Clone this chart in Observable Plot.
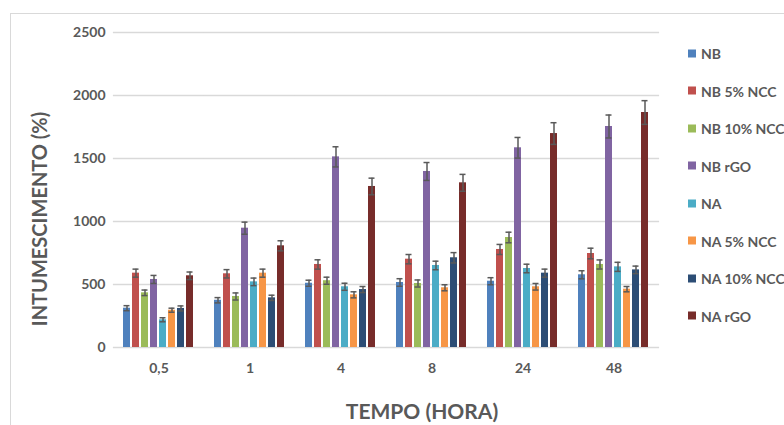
<!DOCTYPE html>
<html>
<head>
<meta charset="utf-8">
<script src="https://cdn.jsdelivr.net/npm/d3@7"></script>
<script src="https://cdn.jsdelivr.net/npm/@observablehq/plot@0.6"></script>
<style>
  body { margin: 0; background: #fff; }
  #wrap { position: relative; width: 784px; height: 425px; overflow: hidden; font-family: Lato, "Open Sans", sans-serif; color: #595959; }
  #frame { position: absolute; left: 10px; top: 13px; width: 900px; height: 600px; border-left: 1px solid #d9d9d9; border-top: 1px solid #d9d9d9; box-sizing: border-box; }
  #chart { position: absolute; left: 0; top: 0; }
  .ytitle { position: absolute; left: 39px; top: 219px; transform: translate(-50%, -50%) rotate(-90deg); white-space: nowrap; font-weight: bold; font-size: 20px; }
  .xtitle { position: absolute; left: 422px; top: 410px; transform: translate(-50%, -50%); white-space: nowrap; font-weight: bold; font-size: 21px; }
  .legend { position: absolute; left: 688px; top: 0; }
  .legend .item { position: absolute; left: 0; white-space: nowrap; font-weight: bold; font-size: 14px; display: flex; align-items: center; transform: translateY(-50%); }
  .legend .sw { width: 8px; height: 8px; margin-right: 5px; }
</style>
</head>
<body>
<div id="wrap">
  <div id="frame"></div>
  <div id="chart"></div>
  <div class="ytitle">INTUMESCIMENTO (%)</div>
  <div class="xtitle">TEMPO (HORA)</div>
  <div class="legend" id="legend"></div>
</div>
<script>
// Swelling time points (hours) and sample series
const times = ["0,5", "1", "4", "8", "24", "48"];
const series = ["NB", "NB 5% NCC", "NB 10% NCC", "NB rGO", "NA", "NA 5% NCC", "NA 10% NCC", "NA rGO"];
const colors = ["#4F81BD", "#C0504D", "#9BBB59", "#8064A2", "#4BACC6", "#F79646", "#2C4D75", "#772C2A"];
const yTicks = [0, 500, 1000, 1500, 2000, 2500];

// Mean swelling (%) per series, one value per time point
const nb       = [312, 375, 510, 516, 526, 577];
const nb5      = [590, 585, 659, 701, 778, 746];
const nb10     = [434, 405, 530, 508, 873, 659];
const nbRgo    = [540, 947, 1513, 1397, 1585, 1754];
const na       = [220, 521, 482, 651, 627, 640];
const na5      = [296, 590, 418, 474, 482, 463];
const na10     = [310, 394, 460, 712, 590, 616];
const naRgo    = [569, 807, 1278, 1307, 1698, 1865];

// Standard deviations for the error bars
const nbErr    = [20, 21, 24, 30, 28, 32];
const nb5Err   = [32, 33, 37, 37, 40, 42];
const nb10Err  = [22, 28, 28, 28, 42, 36];
const nbRgoErr = [32, 48, 80, 71, 82, 91];
const naErr    = [16, 30, 28, 34, 34, 36];
const na5Err   = [16, 32, 24, 24, 26, 21];
const na10Err  = [20, 21, 24, 41, 32, 30];
const naRgoErr = [30, 40, 66, 67, 86, 94];

const values = [nb, nb5, nb10, nbRgo, na, na5, na10, naRgo];
const errors = [nbErr, nb5Err, nb10Err, nbRgoErr, naErr, na5Err, na10Err, naRgoErr];

const rows = series.flatMap((s, i) =>
  times.map((t, j) => ({ time: t, series: s, value: values[i][j], err: errors[i][j] }))
);

const errStyle = { stroke: "#595959", strokeWidth: 1.5 };

const chart = Plot.plot({
  width: 784,
  height: 425,
  marginLeft: 113,
  marginRight: 125,
  marginTop: 32,
  marginBottom: 78,
  style: { fontFamily: "Lato, 'Open Sans', sans-serif", fontSize: "14px", fontWeight: "bold", color: "#595959", background: "transparent" },
  fx: { domain: times, paddingInner: 0.176, paddingOuter: 0.088, label: null, tickSize: 0, tickPadding: 16, axis: "bottom" },
  x: { domain: series, paddingInner: 0.2, paddingOuter: 0.1, axis: null },
  y: { domain: [0, 2500], ticks: yTicks, tickFormat: d3.format("d"), tickSize: 0, tickPadding: 16, label: null },
  color: { domain: series, range: colors },
  marks: [
    // gridlines: each facet's rule reaches halfway into the gaps so they join up
    Plot.ruleY(yTicks, { stroke: "#d9d9d9", strokeWidth: 1.3, insetLeft: -8.1, insetRight: -8.1 }),
    Plot.barY(rows, { fx: "time", x: "series", y: "value", fill: "series" }),
    Plot.ruleX(rows, { fx: "time", x: "series", y1: d => d.value - d.err, y2: d => d.value + d.err, ...errStyle }),
    Plot.tickY(rows, { fx: "time", x: "series", y: d => d.value - d.err, inset: 0.5, ...errStyle }),
    Plot.tickY(rows, { fx: "time", x: "series", y: d => d.value + d.err, inset: 0.5, ...errStyle })
  ]
});
document.getElementById("chart").appendChild(chart);

// Legend: one row per series, stacked down the right side
const legend = document.getElementById("legend");
series.forEach((s, i) => {
  const item = document.createElement("div");
  item.className = "item";
  item.style.top = (53.3 + i * 37.5) + "px";
  const sw = document.createElement("span");
  sw.className = "sw";
  sw.style.background = colors[i];
  item.appendChild(sw);
  item.appendChild(document.createTextNode(s));
  legend.appendChild(item);
});
</script>
</body>
</html>
